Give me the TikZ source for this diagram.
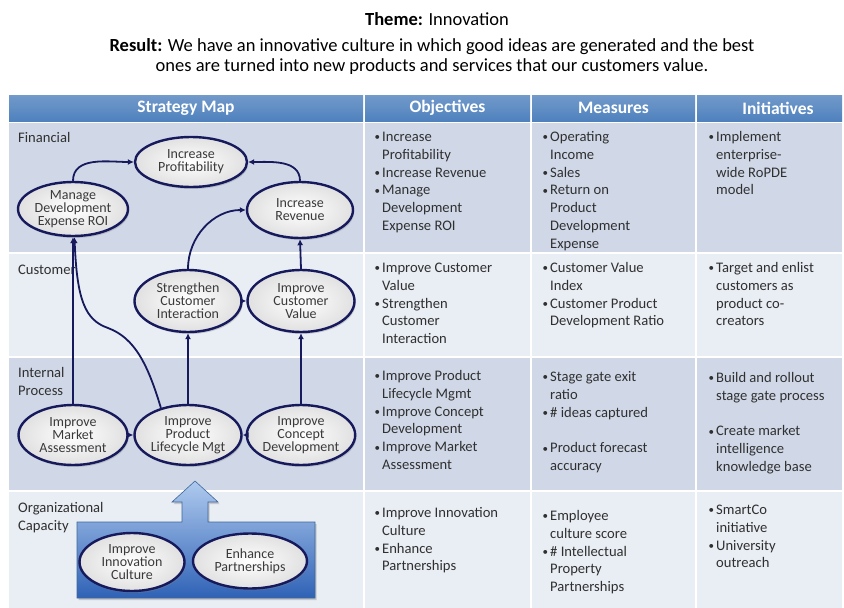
\documentclass[tikz,border=0pt]{standalone}
\usepackage{fontspec}
\setmainfont{Carlito}
\usetikzlibrary{arrows.meta,shapes.geometric,shadows}
\definecolor{headblue}{HTML}{4F81BD}
\definecolor{rowdark}{HTML}{D0D8E8}
\definecolor{rowlight}{HTML}{E9EDF4}
\definecolor{navy}{RGB}{22,26,92}
\definecolor{txt}{HTML}{303030}
\definecolor{etxt}{HTML}{3A3A3A}
\definecolor{boxtop}{HTML}{AFCAEE}
\definecolor{boxbot}{HTML}{2F62B6}
\newcommand{\bu}{\makebox[8.5pt][l]{\hspace*{0.8pt}\raisebox{0.6pt}{\fontsize{11}{11}\selectfont\textbullet}}}
\newcommand{\ind}{\hspace*{8.5pt}}
\newcommand{\cellbox}[1]{\parbox[t]{160pt}{\raggedright #1}}
\begin{document}
\begin{tikzpicture}[x=1pt,y=-1pt,
  hdr/.style={font=\fontsize{17.5}{20}\selectfont\bfseries, text=white, inner sep=0},
  lbl/.style={font=\fontsize{14.6}{17.8}\selectfont, text=txt, anchor=base west, inner sep=0},
  cell/.style={font=\fontsize{14.6}{17.8}\selectfont, text=txt, anchor=base west, inner sep=0},
  ell/.style={ellipse, draw=navy, line width=2.4pt, inner sep=0, align=center,
    font=\fontsize{14}{12.9}\selectfont, text=etxt,
    inner color=white, outer color=black!12,
    drop shadow={shadow xshift=1.2pt, shadow yshift=-2pt, opacity=0.35}},
  arr/.style={draw=navy, line width=1.8pt, -{Latex[length=6pt,width=6pt]}},
  hdrcell/.style={top color=headblue!80!white, bottom color=headblue},
]
\useasboundingbox (0,0) rectangle (844,608);
\fill[white] (0,0) rectangle (844,608);

% title
\node[font=\fontsize{18.5}{20}\selectfont, text=black] (theme) at (437,19) {\textbf{Theme:} Innovation};
\node[font=\fontsize{18.5}{19.5}\selectfont, text=black, align=center] (result) at (432,56.5)
  {\textbf{Result:} We have an innovative culture in which good ideas are generated and the best\\
   ones are turned into new products and services that our customers value.};

% table backgrounds
\foreach \xa/\xb in {9/363,365/530,532/695,697/842}{
  \shade[hdrcell] (\xa,95) rectangle (\xb,121);
  \fill[rowdark] (\xa,123) rectangle (\xb,252);
  \fill[rowlight] (\xa,254) rectangle (\xb,356);
  \fill[rowdark] (\xa,358) rectangle (\xb,490);
  \fill[rowlight] (\xa,492) rectangle (\xb,608);
}

% headers
\node[hdr] (h1) at (186,108) {Strategy Map};
\node[hdr] (h2) at (447.5,108) {Objectives};
\node[hdr] (h3) at (613.5,108) {Measures};
\node[hdr] (h4) at (778,108) {Initiatives};

% row labels
\node[lbl] (lfin) at (18,142.5) {Financial};
\node[lbl] (lcus) at (18,274.5) {Customer};
\node[lbl] (lint) at (18,377.5) {\cellbox{Internal\\Process}};
\node[lbl] (lorg) at (18,512.5) {\cellbox{Organizational\\Capacity}};

% Financial cells
\node[cell] (o1) at (373.5,141.5) {\cellbox{\bu Increase\\\ind Profitability\\\bu Increase Revenue\\\bu Manage\\\ind Development\\\ind Expense ROI}};
\node[cell] (m1) at (541.5,141.5) {\cellbox{\bu Operating\\\ind Income\\\bu Sales\\\bu Return on\\\ind Product\\\ind Development\\\ind Expense}};
\node[cell] (i1) at (707.5,141.5) {\cellbox{\bu Implement\\\ind enterprise-\\\ind wide RoPDE\\\ind model}};

% Customer cells
\node[cell] (o2) at (373.5,272.5) {\cellbox{\bu Improve Customer\\\ind Value\\\bu Strengthen\\\ind Customer\\\ind Interaction}};
\node[cell] (m2) at (541.5,272.5) {\cellbox{\bu Customer Value\\\ind Index\\\bu Customer Product\\\ind Development Ratio}};
\node[cell] (i2) at (707.5,272.5) {\cellbox{\bu Target and enlist\\\ind customers as\\\ind product co-\\\ind creators}};

% Internal cells
\node[cell] (o3) at (373.5,380.5) {\cellbox{\bu Improve Product\\\ind Lifecycle Mgmt\\\bu Improve Concept\\\ind Development\\\bu Improve Market\\\ind Assessment}};
\node[cell] (m3) at (541.5,381.5) {\cellbox{\bu Stage gate exit\\\ind ratio\\\bu \# ideas captured\\[17.8pt]\bu Product forecast\\\ind accuracy}};
\node[cell] (i3) at (707.5,382.5) {\cellbox{\bu Build and rollout\\\ind stage gate process\\[17.8pt]\bu Create market\\\ind intelligence\\\ind knowledge base}};

% Org cells
\node[cell] (o4) at (373.5,517.5) {\cellbox{\bu Improve Innovation\\\ind Culture\\\bu Enhance\\\ind Partnerships}};
\node[cell] (m4) at (541.5,520.5) {\cellbox{\bu Employee\\\ind culture score\\\bu \# Intellectual\\\ind Property\\\ind Partnerships}};
\node[cell] (i4) at (707.5,514.5) {\cellbox{\bu SmartCo\\\ind initiative\\\bu University\\\ind outreach}};

% blue box with arrow
\shade[top color=boxtop, bottom color=boxbot, draw=headblue!80!black, line width=0.6pt,
  drop shadow={shadow xshift=1.5pt, shadow yshift=-2pt, opacity=0.35}]
  (77,522) -- (182,522) -- (182,502) -- (172,502) -- (195,481) -- (218,502) -- (208,502)
  -- (208,522) -- (315,522) -- (315,598) -- (77,598) -- cycle;

% ellipses
\node[ell, minimum width=112pt, minimum height=50pt] (prof) at (191,162) {Increase\\Profitability};
\node[ell, minimum width=110pt, minimum height=54pt] (roi) at (73,209) {Manage\\Development\\Expense ROI};
\node[ell, minimum width=106pt, minimum height=56pt] (rev) at (300,210) {Increase\\Revenue};
\node[ell, minimum width=107pt, minimum height=62pt] (sci) at (188,301) {Strengthen\\Customer\\Interaction};
\node[ell, minimum width=107pt, minimum height=62pt] (icv) at (301,301) {Improve\\Customer\\Value};
\node[ell, minimum width=109pt, minimum height=60pt] (ima) at (73,435) {Improve\\Market\\Assessment};
\node[ell, minimum width=107pt, minimum height=60pt] (ipl) at (188,435) {Improve\\Product\\Lifecycle Mgt};
\node[ell, minimum width=107pt, minimum height=60pt] (icd) at (301,435) {Improve\\Concept\\Development};
\node[ell, minimum width=105pt, minimum height=58pt] (iic) at (132,562) {Improve\\Innovation\\Culture};
\node[ell, minimum width=114pt, minimum height=55pt] (ep) at (250,561) {Enhance\\Partnerships};

% connectors
\draw[arr] (roi.north) to[out=90,in=180] (prof.west);
\draw[arr] (rev.north) to[out=90,in=0] (prof.east);
\draw[arr] (ima.north) -- (roi.south);
\draw[arr] (ipl.135) .. controls (148,365) and (135,338) .. (108,328)
  .. controls (85,320) and (77,300) .. (roi.273);
\draw[arr] (ipl.north) -- (sci.south);
\draw[arr] (icd.north) -- (icv.south);
\draw[arr] (sci.east) -- (icv.west);
\draw[arr] (sci.north) to[out=90,in=180] (rev.west);
\draw[arr] (icv.north) -- (rev.south);
\draw[arr] (ima.east) -- (ipl.west);
\draw[arr] (icd.west) -- (ipl.east);
\end{tikzpicture}
\end{document}
